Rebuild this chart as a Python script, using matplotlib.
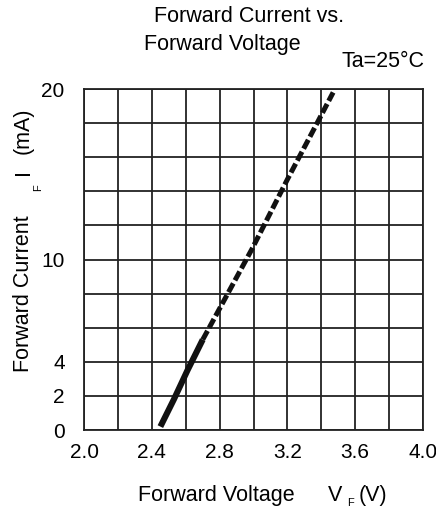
import matplotlib
matplotlib.use("Agg")
import matplotlib.pyplot as plt
import numpy as np

plt.rcParams["font.family"] = ["Liberation Sans", "DejaVu Sans"]

# measured IF-VF curve: solid part is the tested range, dashed part extrapolated
vf_solid = [2.45, 2.53, 2.61, 2.70]
if_solid = [0.2, 1.8, 3.5, 5.3]
vf_dashed = [2.70, 2.99, 3.20, 3.37, 3.47]
if_dashed = [5.3, 10.6, 14.7, 17.9, 19.8]

x_ticks = [2.0, 2.4, 2.8, 3.2, 3.6, 4.0]
x_tick_labels = ["2.0", "2.4", "2.8", "3.2", "3.6", "4.0"]
y_ticks = [0, 2, 4, 10, 20]
y_tick_labels = ["0", "2", "4", "10", "20"]

fig = plt.figure(figsize=(4.36, 5.11), dpi=100)
ax = fig.add_axes([0.193, 0.1585, 0.777, 0.6673])

ax.plot(vf_solid, if_solid, color="#111111", linewidth=4.4, solid_capstyle="butt")
ax.plot(vf_dashed, if_dashed, color="#111111", linewidth=3.6,
        linestyle=(0, (2.0, 0.7)), dash_capstyle="butt")

ax.set_xlim(2.0, 4.0)
ax.set_ylim(0, 20)
ax.set_xticks(x_ticks, x_tick_labels)
ax.set_yticks(y_ticks, y_tick_labels)
ax.set_xticks(np.arange(2.0, 4.01, 0.2), minor=True)
ax.set_yticks(np.arange(0, 20.1, 2), minor=True)
ax.grid(which="both", color="#222222", linewidth=1.3)
ax.set_axisbelow(True)
ax.tick_params(which="both", length=0, labelsize=15)
ax.tick_params(axis="x", pad=9)
ax.tick_params(axis="y", pad=14)
for s in ax.spines.values():
    s.set_linewidth(1.3)
    s.set_color("#222222")

fig.text(0.571, 0.967, "Forward Current vs.", ha="center", va="center", fontsize=15.5)
fig.text(0.509, 0.912, "Forward Voltage", ha="center", va="center", fontsize=15.5)
fig.text(0.878, 0.879, "Ta=25°C", ha="center", va="center", fontsize=15.5)

# y label pieces (subscript sits before the I)
fig.text(0.053, 0.426, "Forward Current", rotation=90, ha="center", va="center", fontsize=15.5)
fig.text(0.087, 0.632, "F", rotation=90, ha="center", va="center", fontsize=8)
fig.text(0.053, 0.663, "I", rotation=90, ha="center", va="center", fontsize=15.5)
fig.text(0.053, 0.744, "(mA)", rotation=90, ha="center", va="center", fontsize=15.5)

# x label pieces
fig.text(0.317, 0.031, "Forward Voltage", ha="left", va="center", fontsize=15.5)
fig.text(0.769, 0.031, "V", ha="center", va="center", fontsize=15.5)
fig.text(0.803, 0.016, "F", ha="center", va="center", fontsize=8)
fig.text(0.856, 0.031, "(V)", ha="center", va="center", fontsize=15.5)

fig.savefig("out.png", dpi=100)
